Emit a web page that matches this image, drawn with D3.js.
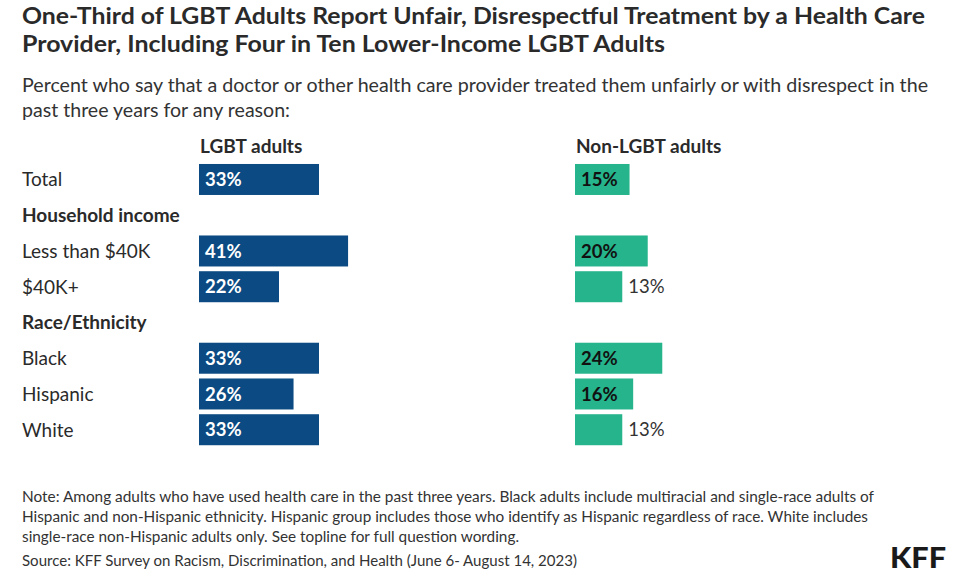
<!DOCTYPE html>
<html>
<head>
<meta charset="utf-8">
<script src="https://cdn.jsdelivr.net/npm/d3@7"></script>
<style>
  html, body { margin: 0; padding: 0; background: #fff; }
  svg { display: block; font-family: Lato, "Noto Sans", sans-serif; }
</style>
</head>
<body>
<svg id="chart" width="960" height="582"></svg>
<script>
// ---- Data ----
const titleLines = [
  "One-Third of LGBT Adults Report Unfair, Disrespectful Treatment by a Health Care",
  "Provider, Including Four in Ten Lower-Income LGBT Adults"
];
const subtitleLines = [
  "Percent who say that a doctor or other health care provider treated them unfairly or with disrespect in the",
  "past three years for any reason:"
];
const seriesNames = ["LGBT adults", "Non-LGBT adults"];
const categories = ["Total", "Household income", "Less than $40K", "$40K+", "Race/Ethnicity", "Black", "Hispanic", "White"];
const headerRows = ["Household income", "Race/Ethnicity"];
const lgbtValues = [33, null, 41, 22, null, 33, 26, 33];
const nonLgbtValues = [15, null, 20, 13, null, 24, 16, 13];
const noteLines = [
  "Note: Among adults who have used health care in the past three years. Black adults include multiracial and single-race adults of",
  "Hispanic and non-Hispanic ethnicity. Hispanic group includes those who identify as Hispanic regardless of race. White includes",
  "single-race non-Hispanic adults only. See topline for full question wording."
];
const sourceLine = "Source: KFF Survey on Racism, Discrimination, and Health (June 6- August 14, 2023)";
const logoText = "KFF";

// ---- Drawing ----
const svg = d3.select("#chart");
const textColor = "#2a2a2a";
const colors = ["#0b4a82", "#25b48b"];

function fitText(sel, w) {
  sel.attr("textLength", w).attr("lengthAdjust", "spacingAndGlyphs");
}

// Title
const titleWidths = [903, 643];
titleLines.forEach((t, i) => {
  svg.append("text").attr("x", 22).attr("y", 24 + i * 28)
    .attr("font-size", 22.5).attr("font-weight", 700).attr("fill", textColor)
    .text(t).call(fitText, titleWidths[i]);
});
// Subtitle
const subWidths = [906, 268];
subtitleLines.forEach((t, i) => {
  svg.append("text").attr("x", 22).attr("y", 92 + i * 25)
    .attr("font-size", 19.5).attr("font-weight", 400).attr("fill", "#333")
    .text(t).call(fitText, subWidths[i]);
});

const y = d3.scaleBand().domain(categories)
  .range([161.6, 161.6 + 8 * 35.75])
  .paddingInner(0.133).paddingOuter(0.0665);
const x = d3.scaleLinear().domain([0, 100]).range([0, 363.6]);
const panelX = [199, 575];
const seriesValues = [lgbtValues, nonLgbtValues];

// Row labels
categories.forEach(c => {
  const isHeader = headerRows.includes(c);
  svg.append("text").attr("x", 22)
    .attr("y", y(c) + y.bandwidth() / 2).attr("dy", "0.36em")
    .attr("font-size", 19).attr("font-weight", isHeader ? 700 : 400)
    .attr("fill", textColor).text(c);
});

seriesNames.forEach((name, s) => {
  const g = svg.append("g").attr("transform", `translate(${panelX[s]},0)`);
  g.append("text").attr("x", 1).attr("y", 153)
    .attr("font-size", 19).attr("font-weight", 700).attr("fill", textColor).text(name);
  const vals = categories.map((c, i) => ({ c, v: seriesValues[s][i] })).filter(d => d.v != null);
  g.selectAll("rect").data(vals).join("rect")
    .attr("x", x(0)).attr("y", d => y(d.c))
    .attr("width", d => x(d.v)).attr("height", y.bandwidth())
    .attr("fill", colors[s]);
  vals.forEach(d => {
    const t = g.append("text").attr("y", y(d.c) + y.bandwidth() / 2).attr("dy", "0.36em")
      .attr("font-size", 18.5).attr("font-weight", 700).text(d.v + "%");
    const w = t.node().getComputedTextLength();
    if (w + 12 <= x(d.v)) {
      t.attr("x", x(0) + 6).attr("fill", s === 0 ? "#ffffff" : "#111");
    } else {
      t.attr("x", x(d.v) + 6).attr("font-weight", 400).attr("fill", "#333");
    }
  });
});

// Notes
const noteWidths = [852, 846, 497];
noteLines.forEach((t, i) => {
  svg.append("text").attr("x", 22).attr("y", 502 + i * 20)
    .attr("font-size", 15).attr("fill", "#333").text(t).call(fitText, noteWidths[i]);
});
svg.append("text").attr("x", 22).attr("y", 566)
  .attr("font-size", 15).attr("fill", "#333").text(sourceLine).call(fitText, 555);

svg.append("text").attr("x", 890).attr("y", 568)
  .attr("font-size", 28).attr("font-weight", 900).attr("fill", "#1a1a1a")
  .text(logoText).call(fitText, 56);
</script>
</body>
</html>
